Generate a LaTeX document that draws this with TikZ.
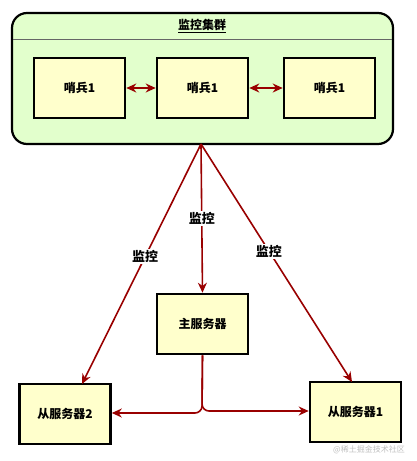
\documentclass[tikz,border=0pt]{standalone}
\usepackage{fontspec}
\newfontfamily\cjk{Noto Sans CJK SC}
\usetikzlibrary{arrows.meta}
\definecolor{boxfill}{HTML}{FFFFCC}
\definecolor{clfill}{HTML}{E2FFCC}
\definecolor{arr}{HTML}{990000}
\tikzset{
  box/.style={draw=black, line width=2.6pt, fill=boxfill, minimum width=91pt, minimum height=60pt, inner sep=0pt, font=\cjk\bfseries\fontsize{12}{14}\selectfont},
  conn/.style={draw=arr, line width=1.6pt, -{Stealth[length=10pt,width=9pt]}},
  dconn/.style={draw=arr, line width=1.6pt, {Stealth[length=10pt,width=9pt]}-{Stealth[length=10pt,width=9pt]}},
  lbl/.style={fill=white, inner sep=1.5pt, font=\cjk\bfseries\fontsize{13}{15}\selectfont}
}
\begin{document}
\begin{tikzpicture}[x=1pt,y=-1pt]
\useasboundingbox[fill=white] (0,0) rectangle (417,461);
% cluster
\node[draw=black, line width=2.2pt, fill=clfill, rounded corners=15pt, minimum width=381pt, minimum height=131pt, inner sep=0pt] (cl) at (202.5,78.5) {};
\draw[draw=black!60, line width=0.8pt] (13,39) -- (392,39);
\node[font=\cjk\bfseries\fontsize{12}{14}\selectfont, inner sep=0pt] (title) at (202,26) {\underline{监控集群}};
% sentinels
\node[box] (s1) at (79.5,88) {哨兵1};
\node[box] (s2) at (202.5,88) {哨兵1};
\node[box] (s3) at (329.5,88) {哨兵1};
\draw[dconn] (s1) -- (s2);
\draw[dconn] (s2) -- (s3);
% servers
\node[box] (m) at (202.5,324) {主服务器};
\node[box] (sl2) at (65,414) {从服务器2};
\node[box] (sl1) at (355.5,412) {从服务器1};
\coordinate (top) at (201,144);
\draw[conn] (top) -- node[lbl, pos=0.5]{监控} (m.north);
\draw[conn] (top) -- node[lbl, pos=0.47]{监控} (82,384);
\draw[conn] (top) -- node[lbl, pos=0.45]{监控} (352,382);
\draw[conn, rounded corners=7pt] (m.south) -- (202,413) -- (sl2.east |- 0,413);
\draw[conn, rounded corners=7pt] (m.south) -- (202,411) -- (sl1.west |- 0,411);
% watermark
\node[font=\cjk\fontsize{8}{9}\selectfont, text=black!25, anchor=east, inner sep=0pt] (wm) at (405,450) {@稀土掘金技术社区};
\end{tikzpicture}
\end{document}
